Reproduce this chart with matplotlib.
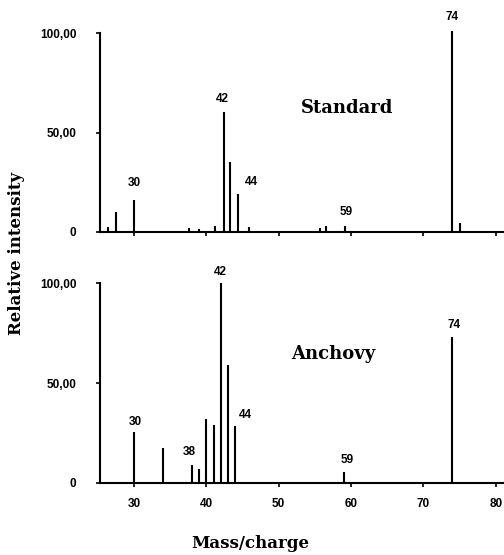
import matplotlib
matplotlib.use("Agg")
import matplotlib.pyplot as plt

# ---- data (m/z, relative intensity %) ----
std_mz = [26.4, 27.5, 30, 37.6, 39.0, 41.2, 42.4, 43.3, 44.4, 45.9, 55.7, 56.6, 59.2, 74, 75]
std_int = [2.7, 9.9, 16.1, 2.0, 1.5, 3.0, 60.5, 35.3, 19.0, 2.7, 2.2, 3.0, 3.2, 101.0, 4.7]

anc_mz = [30, 34, 38, 39, 40, 41, 42, 43, 44, 59, 74]
anc_int = [25.6, 17.3, 8.9, 6.9, 31.8, 28.9, 100.0, 58.9, 28.6, 5.5, 73.2]

std_labels = ["30", "42", "44", "59", "74"]
anc_labels = ["30", "38", "42", "44", "59", "74"]

xticks = [30, 40, 50, 60, 70, 80]
yticks = [0, 50, 100]
ytick_labels = ["0", "50,00", "100,00"]

# label positions (layout)
std_label_pos = [(30.1, 24.6), (42.2, 66.8), (46.2, 25.1), (59.3, 10.0), (74.0, 108.0)]
anc_label_pos = [(30.2, 30.6), (37.7, 15.4), (41.9, 105.8), (45.4, 34.0), (59.5, 11.4), (74.2, 79.1)]

W, H = 504, 555
fig = plt.figure(figsize=(W / 100, H / 100), dpi=100)

def px_axes(x0, y_top, x1, y_bot):
    return fig.add_axes([x0 / W, 1 - y_bot / H, (x1 - x0) / W, (y_bot - y_top) / H])

ax1 = px_axes(100, 33, 503, 232)
ax2 = px_axes(100, 283.3, 503, 482.7)

tick_font = dict(family="Liberation Sans", weight="bold", size=8.5)
serif = dict(family="DejaVu Serif", weight="bold")

for ax, mz, inten, labs, pos, name, npos, show_x in [
    (ax1, std_mz, std_int, std_labels, std_label_pos, "Standard", (59.4, 62.3), False),
    (ax2, anc_mz, anc_int, anc_labels, anc_label_pos, "Anchovy", (57.5, 64.5), True),
]:
    ax.vlines(mz, 0, inten, colors="black", linewidth=1.5, clip_on=False)
    ax.set_xlim(25.3, 81.0)
    ax.set_ylim(0, 100)
    for s in ["top", "right"]:
        ax.spines[s].set_visible(False)
    for s in ["left", "bottom"]:
        ax.spines[s].set_linewidth(1.5)
    ax.set_xticks(xticks)
    ax.set_yticks(yticks)
    ax.set_yticklabels(ytick_labels, fontdict=tick_font)
    ax.tick_params(axis="y", direction="out", length=3, width=1.2, pad=14)
    ax.tick_params(axis="x", direction="out", length=3, width=1.2, pad=8)
    if show_x:
        ax.set_xticklabels([str(t) for t in xticks], fontdict=tick_font)
    else:
        ax.set_xticklabels([])
    for t, (x, y) in zip(labs, pos):
        ax.text(x, y, t, ha="center", va="center", clip_on=False, **tick_font)
    ax.text(npos[0], npos[1], name, ha="center", va="center", size=13, **serif)
    ax.patch.set_visible(False)

fig.text(17 / W, 1 - 253 / H, "Relative intensity", rotation=90, ha="center", va="center",
         size=12, **serif)
fig.text(250 / W, 1 - 543 / H, "Mass/charge", ha="center", va="center",
         size=12, **serif)

fig.savefig("out.png", dpi=100)
